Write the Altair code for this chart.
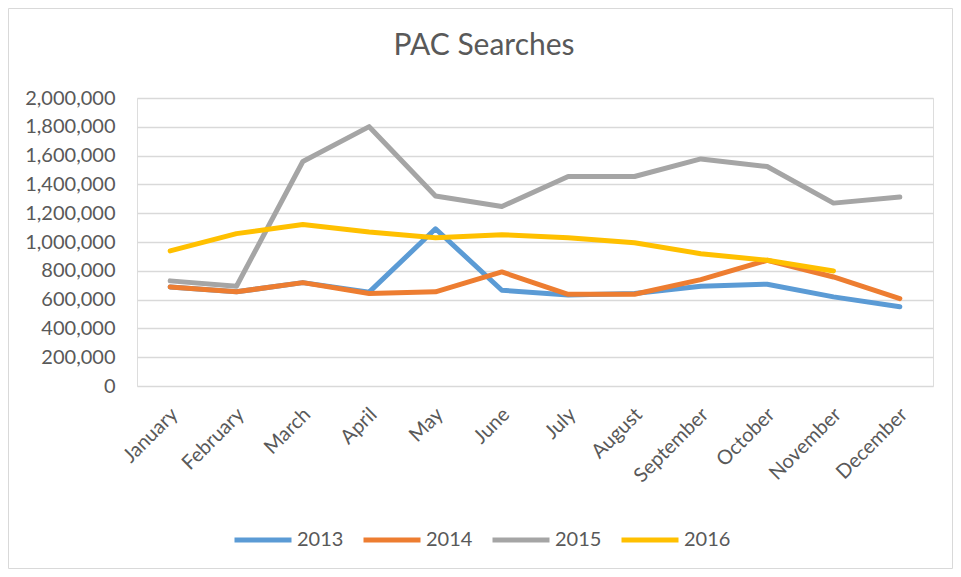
import altair as alt
import pandas as pd

months = ["January", "February", "March", "April", "May", "June", "July",
          "August", "September", "October", "November", "December"]
years = ["2013", "2014", "2015", "2016"]
colors = ["#5B9BD5", "#ED7D31", "#A5A5A5", "#FFC000"]

s2013 = [688000, 654000, 718000, 652000, 1092000, 665000, 632000, 643000, 692000, 707000, 619000, 550000]
s2014 = [688000, 654000, 718000, 642000, 654000, 792000, 637000, 637000, 739000, 873000, 757000, 607000]
s2015 = [730000, 693000, 1559000, 1801000, 1319000, 1247000, 1455000, 1455000, 1577000, 1524000, 1270000, 1312000]
s2016 = [938000, 1058000, 1122000, 1069000, 1030000, 1051000, 1030000, 995000, 919000, 873000, 799000, None]

rows = []
for yr, series in zip(years, [s2013, s2014, s2015, s2016]):
    for m, v in zip(months, series):
        rows.append({"month": m, "year": yr, "value": v})
df = pd.DataFrame(rows)

FONT = "Lato"
TXT = "#595959"
GRID = "#D9D9D9"

lines = alt.Chart(df).mark_line(strokeWidth=5, strokeJoin="round", strokeCap="round").encode(
    x=alt.X("month:O", sort=months, title=None,
            scale=alt.Scale(padding=0.5),
            axis=alt.Axis(labelAngle=-45, labelFontSize=20, labelFont=FONT, labelColor=TXT,
                          domain=False, ticks=False, grid=False, labelPadding=18,
                          labelOffset=-3)),
    y=alt.Y("value:Q", title=None,
            scale=alt.Scale(domain=[0, 2000000], nice=False),
            axis=alt.Axis(values=list(range(0, 2000001, 200000)), format=",d",
                          labelFontSize=20, labelFont=FONT, labelColor=TXT,
                          domain=False, ticks=False, grid=True, gridColor=GRID,
                          gridWidth=1.5, labelPadding=22)),
    color=alt.Color("year:N", scale=alt.Scale(domain=years, range=colors),
                    legend=alt.Legend(title=None, orient="none", legendX=95, legendY=411,
                                      direction="horizontal", symbolType="stroke",
                                      symbolSize=3249, symbolStrokeWidth=5,
                                      labelFontSize=20, labelFont=FONT, labelColor=TXT,
                                      labelOffset=3, columnPadding=9)),
)

border = alt.Chart(alt.Data(values=[{}])).mark_rect(
    fillOpacity=0, stroke=GRID, strokeWidth=1
).encode(
    x=alt.value(-128.5), x2=alt.value(815.5), y=alt.value(-89.5), y2=alt.value(470.5)
)

chart = alt.layer(border, lines).properties(
    width=796, height=288,
    title=alt.TitleParams("PAC Searches", fontSize=30, font=FONT, color=TXT,
                          fontWeight="normal", anchor="middle", frame="group",
                          baseline="alphabetic", offset=-76.5, dx=-51),
    autosize=alt.AutoSizeParams(type="none"),
    padding={"left": 129, "top": 90, "right": 20, "bottom": 183},
).configure_view(stroke=None).configure(background="white")

chart.save("out.html", embed_options={"renderer": "svg", "actions": False})
